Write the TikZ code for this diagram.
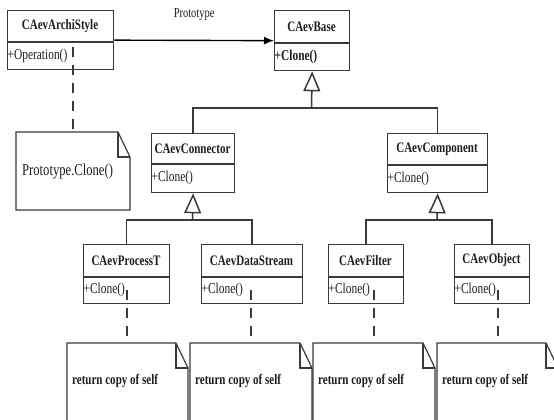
\documentclass[tikz,border=0pt]{standalone}
\usepackage{fontspec}
\setmainfont[FakeStretch=0.76]{Liberation Serif}
\usetikzlibrary{arrows.meta}
\definecolor{ln}{HTML}{3A3A3A}
\definecolor{tx}{HTML}{1E1E1E}
\newcommand\umlbox[8]{%
  \node[cbox, minimum width={#4-#2}, minimum height={#5-#3}, anchor=north west] (#1) at (#2,#3) {};
  \draw[cline] (#2,#6) -- (#4,#6);
  \node[ctitle] (#1-t) at ({(#2+#4)/2},{(#3+#6)/2}) {#7};
  \node[cmeth, anchor=west] (#1-m) at (#2,{(#6+#5)/2}) {#8};
}
\newcommand\notebox[4]{% x1, y1, x2, y2
  \draw[notel] (#1,#2) -- ({#3-12},#2) -- (#3,{#2+25}) -- (#3,#4) -- (#1,#4) -- cycle;
  \draw[notel] ({#3-12},#2) -- ({#3-12},{#2+25}) -- (#3,{#2+25});
}
\begin{document}
\begin{tikzpicture}[x=1pt,y=-1pt,
  cbox/.style={draw=ln, line width=1.3pt, inner sep=0pt, fill=white},
  cline/.style={draw=ln, line width=1.3pt},
  ctitle/.style={text=tx, font=\fontsize{14.5}{16}\selectfont\bfseries, inner sep=0pt},
  cmeth/.style={text=tx, font=\fontsize{15}{17}\selectfont, inner sep=0.5pt},
  notel/.style={draw=ln, line width=1.2pt},
  ntext/.style={text=tx, font=\fontsize{14.5}{16}\selectfont\bfseries, inner sep=0pt, anchor=west},
  inh/.style={draw=ln, line width=1.5pt},
  gen/.style={draw=ln, line width=1.5pt, -{Triangle[open, length=20pt, width=17pt, fill=white]}},
  dsh/.style={draw=ln, line width=1.2pt, dash pattern=on 10pt off 8pt},
]
\useasboundingbox (0,0) rectangle (554,420);
\clip (0,0) rectangle (554,420);
\fill[white] (0,0) rectangle (554,420);

% classes
\umlbox{arch}{7}{10}{113}{69}{42}{CAevArchiStyle}{+Operation()}
\umlbox{base}{274}{10}{349}{70}{43}{CAevBase}{\bfseries +Clone()}
\umlbox{conn}{151}{133}{234}{192}{164}{CAevConnector}{+Clone()}
\umlbox{comp}{387}{133}{487}{192}{165}{CAevComponent}{+Clone()}
\umlbox{proc}{83}{244}{169}{303}{277}{CAevProcessT}{+Clone()}
\umlbox{data}{201}{244}{302}{303}{277}{CAevDataStream}{+Clone()}
\umlbox{filt}{328}{244}{403}{303}{277}{CAevFilter}{+Clone()}
\umlbox{objc}{454}{244}{529}{303}{277}{CAevObject}{+Clone()}

% prototype association
\draw[draw=black, line width=1.4pt, -{Latex[length=10pt, width=8pt]}] (arch.east) -- (base.west)
  node[midway, above=16pt, text=tx, font=\fontsize{13.8}{15}\selectfont] (protolbl) {Prototype};

% generalizations
\coordinate (j1) at (311.5,108);
\coordinate (j2) at (192.5,220);
\coordinate (j3) at (437,220);
\draw[inh] (conn.north) |- (j1) -| (comp.north);
\draw[gen] (j1) -- (base.south);
\draw[inh] (proc.north) |- (j2) -| (data.north);
\draw[gen] (j2) -- (conn.south);
\draw[inh] (filt.north) |- (j3) -| (objc.north);
\draw[gen] (j3) -- (comp.south);

% notes
\notebox{16}{132}{130}{210}
\node[anchor=west, text=tx, font=\fontsize{16.6}{18}\selectfont, inner sep=0pt] (n0t) at (22,172) {Prototype.Clone()};
\notebox{67}{343}{188}{440}
\notebox{190}{343}{312}{440}
\notebox{313}{343}{435}{440}
\notebox{437}{343}{558}{440}
\node[ntext] (n1t) at (72,381) {return copy of self};
\node[ntext] (n2t) at (195,381) {return copy of self};
\node[ntext] (n3t) at (318,381) {return copy of self};
\node[ntext] (n4t) at (442,381) {return copy of self};

% note anchors
\coordinate (a0) at (73,47);   \coordinate (n0) at (73,132);
\coordinate (a1) at (127,290); \coordinate (n1) at (127,343);
\coordinate (a2) at (251,290); \coordinate (n2) at (251,343);
\coordinate (a3) at (374,290); \coordinate (n3) at (374,343);
\coordinate (a4) at (498,290); \coordinate (n4) at (498,343);
\draw[dsh] (a0) -- (n0);
\draw[dsh] (a1) -- (n1);
\draw[dsh] (a2) -- (n2);
\draw[dsh] (a3) -- (n3);
\draw[dsh] (a4) -- (n4);
\end{tikzpicture}
\end{document}
